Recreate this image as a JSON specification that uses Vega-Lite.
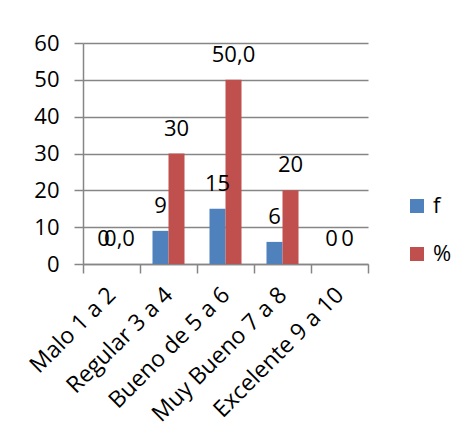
{
  "$schema": "https://vega.github.io/schema/vega-lite/v6.json",
  "autosize": {"type": "none"},
  "padding": {"left": 83, "top": 43, "right": 104, "bottom": 180},
  "width": 285,
  "height": 221,
  "background": "white",
  "config": {
    "view": {"stroke": null},
    "font": "Open Sans",
    "axis": {"labelFont": "Open Sans", "labelColor": "black"}
  },
  "data": {
    "values": [
      {"cat": "Malo 1 a 2", "serie": "f", "value": 0, "label": "0"},
      {"cat": "Malo 1 a 2", "serie": "%", "value": 0, "label": "0,0"},
      {"cat": "Regular 3 a 4", "serie": "f", "value": 9, "label": "9"},
      {"cat": "Regular 3 a 4", "serie": "%", "value": 30, "label": "30"},
      {"cat": "Bueno de 5 a 6", "serie": "f", "value": 15, "label": "15"},
      {"cat": "Bueno de 5 a 6", "serie": "%", "value": 50, "label": "50,0"},
      {"cat": "Muy Bueno 7 a 8", "serie": "f", "value": 6, "label": "6"},
      {"cat": "Muy Bueno 7 a 8", "serie": "%", "value": 20, "label": "20"},
      {"cat": "Excelente 9 a 10", "serie": "f", "value": 0, "label": "0"},
      {"cat": "Excelente 9 a 10", "serie": "%", "value": 0, "label": "0"}
    ]
  },
  "encoding": {
    "x": {
      "field": "cat", "type": "nominal", "sort": null,
      "scale": {"paddingInner": 0, "paddingOuter": 0},
      "axis": {
        "title": null, "labelAngle": -45, "labelAlign": "right", "labelBaseline": "middle",
        "labelFontSize": 23, "labelPadding": 18, "tickBand": "extent", "tickSize": 9,
        "tickColor": "#868686", "domainColor": "#868686", "domainWidth": 1.5, "tickWidth": 1.5
      }
    },
    "xOffset": {"field": "serie", "type": "nominal", "sort": ["f", "%"], "scale": {"paddingOuter": 0.78, "paddingInner": 0}},
    "y": {
      "field": "value", "type": "quantitative",
      "scale": {"domain": [0, 60], "nice": false},
      "axis": {
        "title": null, "values": [0, 10, 20, 30, 40, 50, 60], "labelFontSize": 22, "labelPadding": 15,
        "tickSize": 9, "tickColor": "#868686", "tickWidth": 1.5, "gridColor": "#868686", "gridWidth": 1.5,
        "domainColor": "#868686", "domainWidth": 1.5, "grid": true
      }
    }
  },
  "layer": [
    {
      "mark": {"type": "bar"},
      "encoding": {
        "color": {
          "field": "serie", "type": "nominal",
          "scale": {"domain": ["f", "%"], "range": ["#4F81BD", "#C0504D"]},
          "legend": {
            "title": null, "orient": "none", "legendX": 323, "legendY": 152,
            "symbolType": "square", "symbolSize": 196, "symbolStrokeWidth": 0,
            "labelFontSize": 22, "labelOffset": 5, "rowPadding": 26, "labelColor": "black"
          }
        }
      }
    },
    {
      "mark": {"type": "text", "baseline": "alphabetic", "dy": -18, "fontSize": 22, "color": "black"},
      "encoding": {"text": {"field": "label"}}
    }
  ]
}
